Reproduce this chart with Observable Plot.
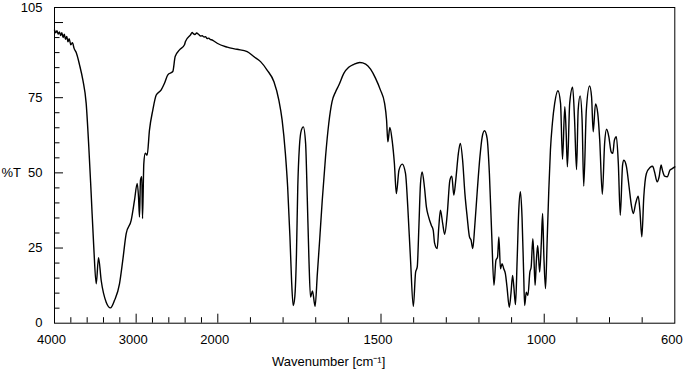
<!DOCTYPE html>
<html>
<head>
<meta charset="utf-8">
<script src="https://cdn.jsdelivr.net/npm/d3@7"></script>
<script src="https://cdn.jsdelivr.net/npm/@observablehq/plot@0.6"></script>
<style>
  html, body { margin: 0; padding: 0; background: #fff; }
</style>
</head>
<body>
<div id="chart"></div>
<script>
// Wavenumber (cm-1) and transmittance (%T)
const wavenumber = [
  4000, 3985, 3970, 3955, 3940, 3925, 3910, 3895, 3880, 3865, 3850, 3835, 3820, 3800, 3780, 3760,
  3734, 3694, 3653, 3612, 3580, 3551, 3519, 3489, 3461, 3428, 3367, 3314, 3265, 3204, 3164, 3122,
  3061, 3020, 2987, 2971, 2959, 2947, 2931, 2922, 2906, 2889, 2865, 2837, 2796, 2754, 2693, 2653,
  2612, 2551, 2522, 2469, 2408, 2396, 2334, 2314, 2300, 2280, 2260, 2233, 2210, 2190, 2170, 2151,
  2130, 2110, 2090, 2069, 2040, 2008,
  1971, 1941, 1910, 1890, 1869, 1849, 1828, 1813, 1803, 1793, 1786, 1779, 1774, 1769, 1764, 1759,
  1755, 1750, 1744, 1738, 1731, 1726, 1721, 1716, 1710, 1702, 1695, 1688, 1680, 1670, 1660, 1650,
  1639, 1629, 1614, 1599, 1583, 1565, 1547, 1532, 1517, 1502, 1489, 1483, 1479, 1473, 1466, 1459,
  1453, 1445, 1435, 1425, 1418, 1410, 1401, 1394, 1389, 1384, 1379, 1374, 1367, 1361, 1354, 1346,
  1340, 1336, 1328, 1323, 1318, 1311, 1305, 1297, 1289, 1283, 1277, 1271, 1263, 1257, 1250, 1243,
  1236, 1229, 1224, 1219, 1213, 1205, 1197, 1190, 1183, 1175, 1168, 1161, 1154, 1148, 1143, 1139,
  1134, 1129, 1124, 1119, 1114, 1107, 1102, 1097, 1093, 1088, 1083, 1078, 1073, 1068, 1063, 1060,
  1055, 1050, 1044, 1040, 1035, 1032, 1028, 1024, 1020, 1014, 1009, 1005, 1001, 996, 991, 986,
  981, 975, 968, 958, 950, 944, 937, 933, 929, 922, 913, 907, 901, 896, 890, 884,
  879, 871, 861, 855, 850, 843, 836, 830, 822, 815, 809, 802, 795, 790, 785, 779,
  773, 767, 760, 756, 748, 740, 733, 727, 720, 712, 707, 701, 695, 687, 676, 668,
  662, 654, 648, 642, 638, 631, 623, 615, 608, 600
];
const transmittance = [
  97.5, 96.6, 97.3, 96.2, 96.9, 95.7, 96.6, 95.0, 96.1, 94.4, 95.4, 93.6, 94.6, 92.6, 93.3, 91.4,
  90.0, 86.0, 80.9, 73.1, 58.7, 43.1, 25.3, 13.1, 21.8, 14.2, 7.0, 5.1, 7.6, 13.1, 20.9, 29.8,
  34.2, 40.9, 46.5, 42.0, 35.3, 47.6, 48.7, 34.8, 53.1, 56.5, 55.9, 64.2, 70.9, 75.9, 77.6, 79.8,
  82.6, 83.7, 88.7, 90.9, 92.6, 93.7, 95.9, 96.7, 96.3, 96.0, 96.5, 96.0, 95.5, 95.6, 95.2, 95.3,
  94.7, 94.8, 94.3, 94.2, 93.7, 93.1,
  91.8, 91.1, 90.3, 88.7, 87.0, 84.2, 80.3, 74.2, 67.6, 56.5, 45.3, 28.7, 14.2, 5.9, 8.9, 23.1,
  45.3, 58.7, 64.2, 65.3, 59.8, 42.0, 22.0, 8.7, 10.7, 5.6, 16.5, 27.6, 40.9, 55.3, 66.5, 73.7,
  77.0, 79.2, 83.1, 85.1, 86.1, 86.7, 86.2, 84.5, 81.5, 77.6, 73.1, 67.6, 60.3, 65.1, 60.9, 53.1,
  43.1, 50.9, 52.9, 49.8, 38.7, 22.0, 5.6, 17.0, 18.7, 32.0, 46.5, 50.3, 45.3, 38.7, 35.3, 32.6,
  30.9, 26.7, 24.8, 32.0, 37.6, 33.1, 29.6, 36.5, 47.6, 48.9, 42.6, 47.6, 56.5, 59.8, 54.2, 43.1,
  35.3, 28.7, 27.6, 24.8, 32.0, 44.2, 55.3, 62.0, 64.0, 61.5, 49.8, 29.8, 12.6, 20.9, 22.0, 28.7,
  18.1, 19.8, 18.1, 16.5, 12.0, 5.3, 9.8, 15.9, 12.0, 6.2, 20.9, 37.6, 43.7, 35.3, 16.5, 5.9,
  10.3, 9.2, 17.0, 18.7, 28.1, 23.1, 12.6, 20.9, 25.9, 17.0, 26.5, 36.5, 22.0, 11.5, 27.6, 44.2,
  57.6, 66.5, 73.1, 77.3, 73.1, 54.5, 72.0, 64.0, 52.0, 73.1, 78.5, 67.6, 51.1, 70.9, 75.6, 67.6,
  45.6, 70.9, 78.9, 75.3, 63.7, 72.9, 69.8, 60.9, 42.9, 59.8, 64.5, 62.0, 57.0, 56.5, 60.9, 62.0,
  53.1, 35.9, 52.6, 54.2, 52.0, 45.3, 39.2, 36.5, 39.8, 42.2, 37.6, 28.7, 42.0, 49.8, 51.8, 52.2,
  50.3, 47.0, 48.7, 52.6, 50.9, 48.9, 48.7, 50.9, 51.4, 52.0
];

// Axis ticks and labels
const xLabelTicks = [4000, 3000, 2000, 1500, 1000, 600];
const xMajorTicks = [3000, 2000, 1500, 1000];
const xMinorTicks = [3800, 3600, 3400, 3200, 2800, 2600, 2400, 2200,
                     1900, 1800, 1700, 1600, 1400, 1300, 1200, 1100, 900, 800, 700];
const yLabelTicks = [0, 25, 50, 75, 105];
const yMajorTicks = [25, 50, 75, 100];
const yMinorTicks = [5, 10, 15, 20, 30, 35, 40, 45, 55, 60, 65, 70, 80, 85, 90, 95];
const xAxisTitle = "Wavenumber [cm⁻¹]";
const yAxisTitle = "%T";

const spectrum = wavenumber.map((w, i) => ({wn: w, t: transmittance[i]}));

const W = 683, H = 376;
const mL = 54, mR = 8.7, mT = 7, mB = 53.3;
const innerH = H - mT - mB;
const innerW = W - mL - mR;

const chart = Plot.plot({
  width: W,
  height: H,
  marginLeft: mL,
  marginRight: mR,
  marginTop: mT,
  marginBottom: mB,
  style: {fontFamily: "'Liberation Sans', Arial, sans-serif", fontSize: "13px", color: "black", background: "white"},
  x: {type: "linear", domain: [4000, 2000, 600], range: [mL, 217.3, W - mR], axis: null},
  y: {domain: [0, 105], axis: null},
  marks: [
    Plot.frame({stroke: "black", strokeWidth: 1}),
    Plot.tickX(xMinorTicks, {x: d => d, stroke: "black", insetTop: innerH - 5.5}),
    Plot.tickX(xMajorTicks, {x: d => d, stroke: "black", insetTop: innerH - 9}),
    Plot.tickY(yMinorTicks, {y: d => d, stroke: "black", insetRight: innerW - 5.5}),
    Plot.tickY(yMajorTicks, {y: d => d, stroke: "black", insetRight: innerW - 9}),
    Plot.text(xLabelTicks, {x: d => d, y: 0, text: d => String(d), dy: 17, dx: -3, fontSize: 13}),
    Plot.text(yLabelTicks, {y: d => d, text: d => String(d), frameAnchor: "left", textAnchor: "end", dx: -12, fontSize: 13}),
    Plot.text([yAxisTitle], {frameAnchor: "left", textAnchor: "start", dx: -53, dy: 7, fontSize: 13}),
    Plot.text([xAxisTitle], {frameAnchor: "bottom", dx: -36, dy: 43, fontSize: 13}),
    Plot.line(spectrum, {x: "wn", y: "t", stroke: "black", strokeWidth: 1.4, curve: "monotone-x"})
  ]
});
document.getElementById("chart").appendChild(chart);
</script>
</body>
</html>
